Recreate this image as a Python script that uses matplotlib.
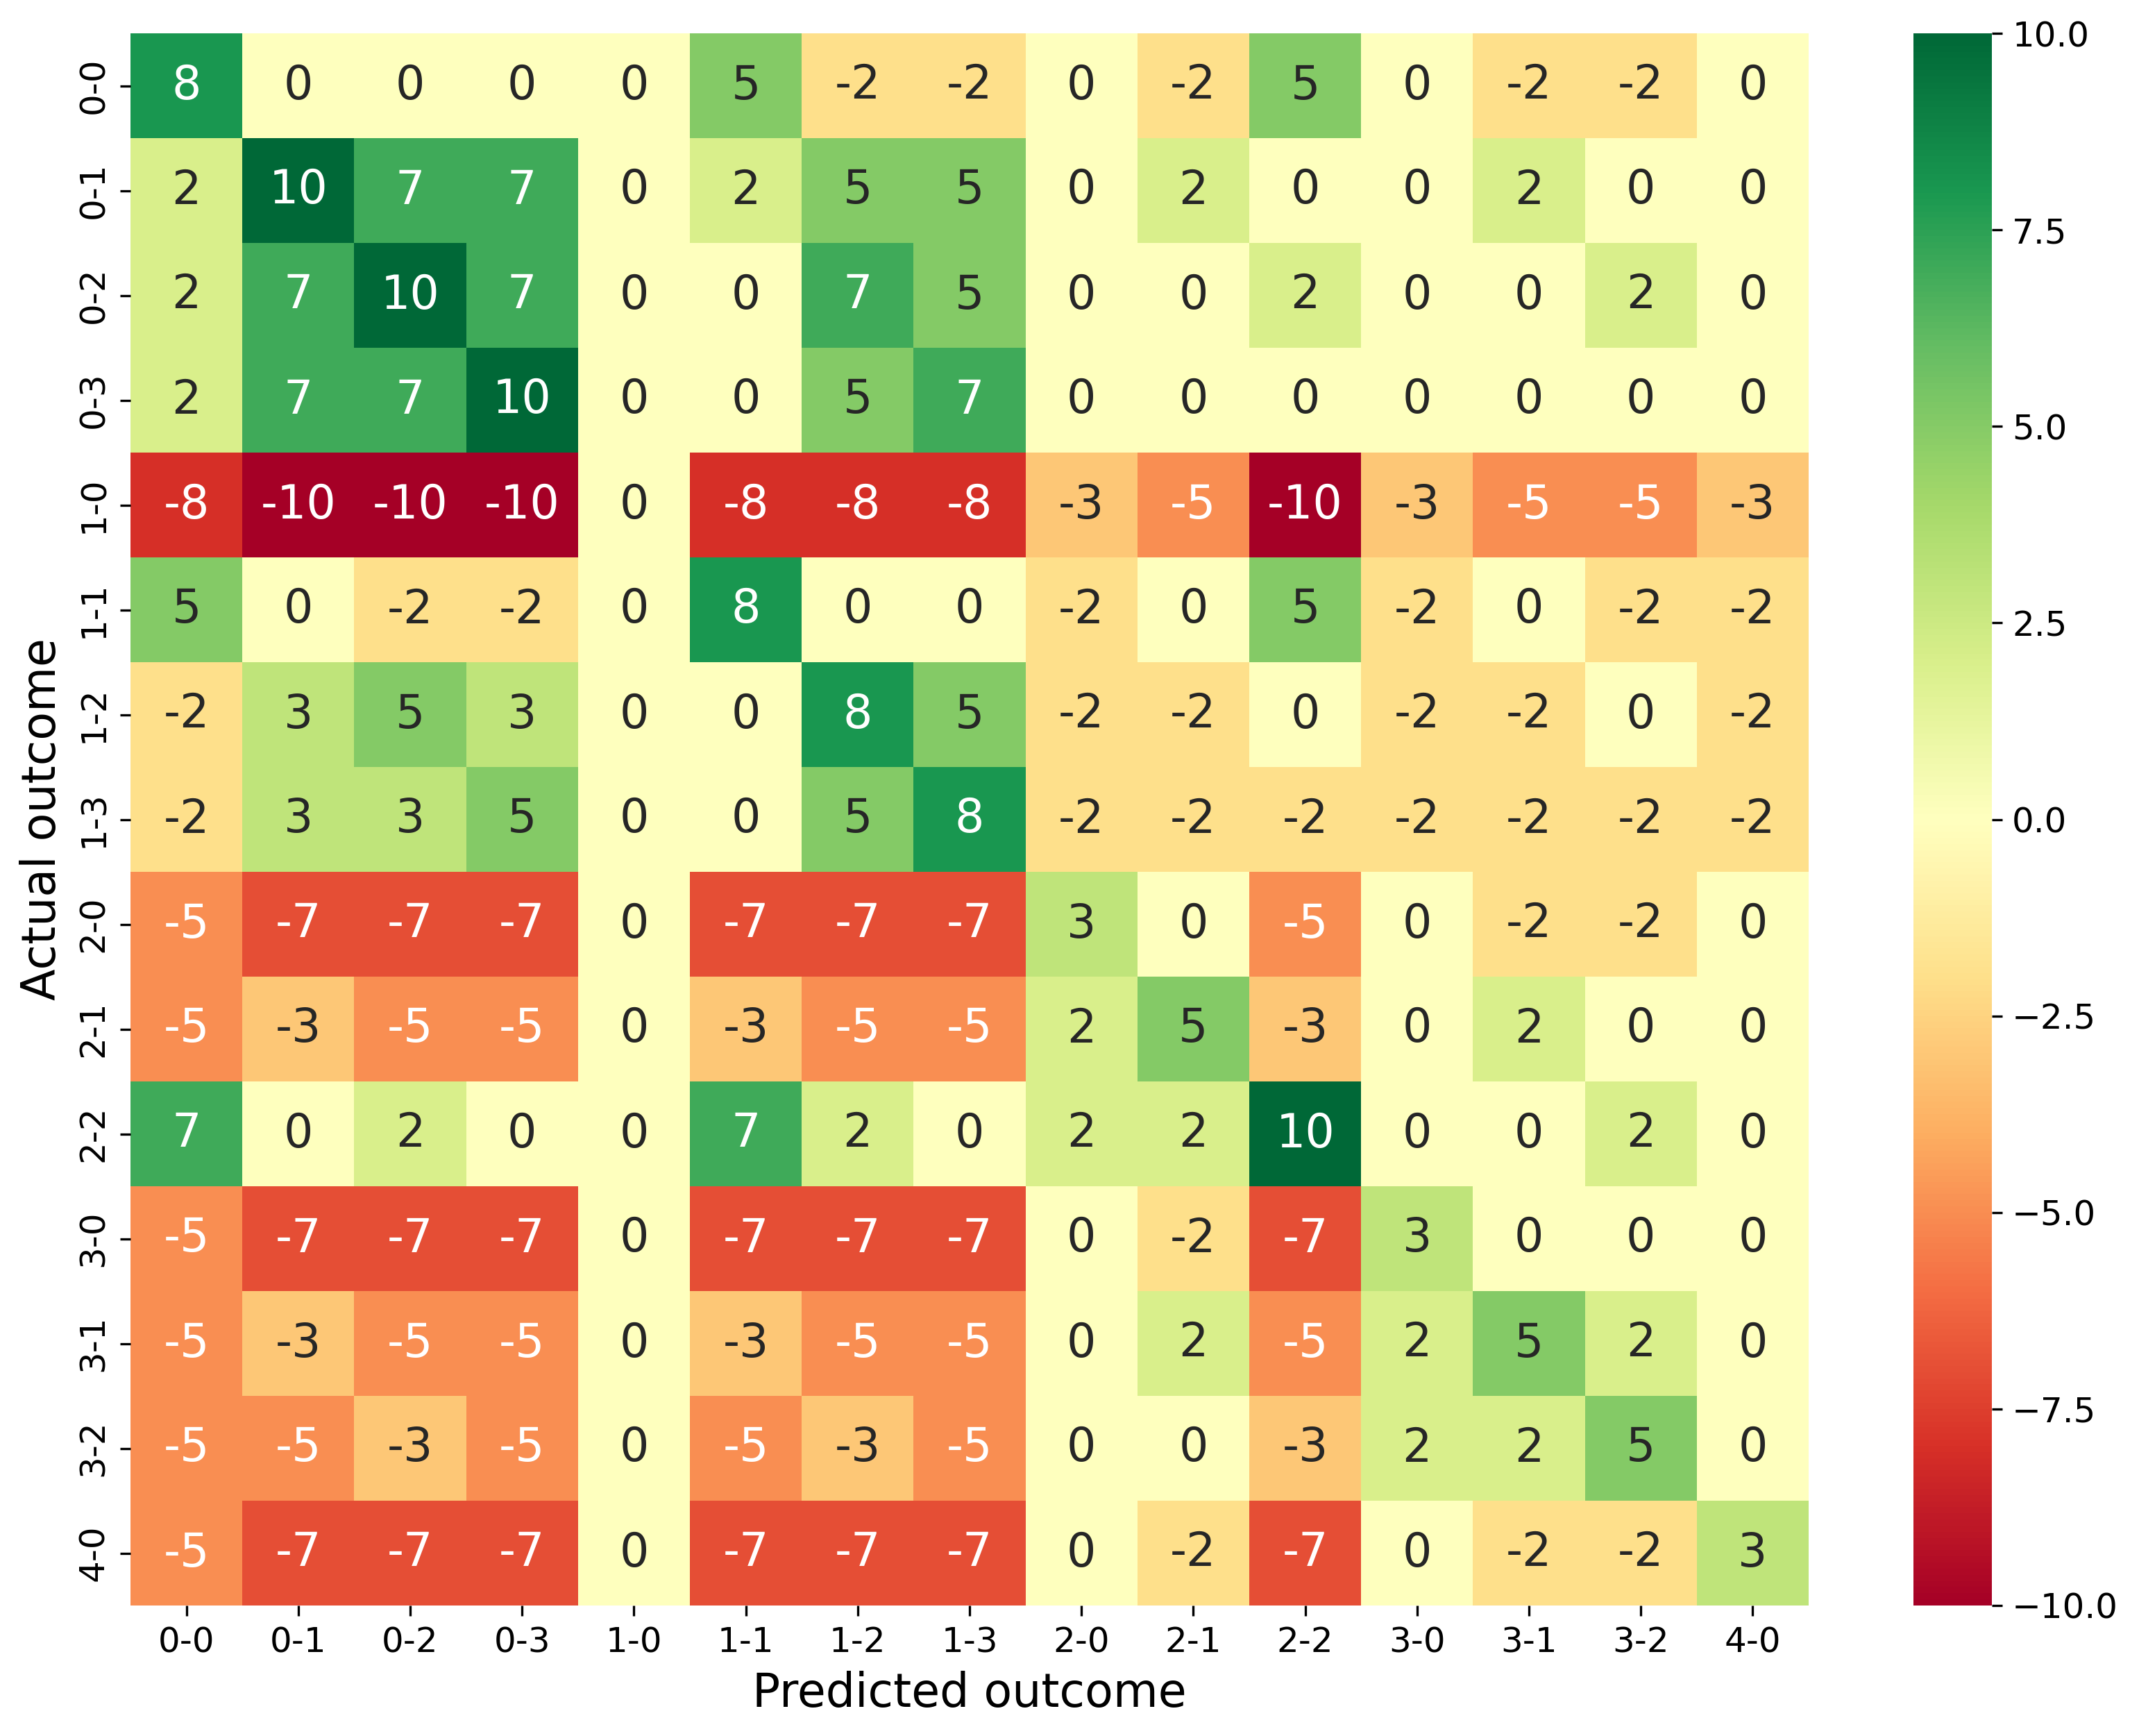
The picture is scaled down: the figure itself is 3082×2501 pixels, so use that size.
import matplotlib
matplotlib.use("Agg")
import matplotlib.pyplot as plt
import numpy as np
import pandas as pd
import seaborn as sns

scores = ["0-0", "0-1", "0-2", "0-3", "1-0", "1-1", "1-2", "1-3",
          "2-0", "2-1", "2-2", "3-0", "3-1", "3-2", "4-0"]

# rows = actual outcome, columns = predicted outcome
points = [
    [8, 0, 0, 0, 0, 5, -2, -2, 0, -2, 5, 0, -2, -2, 0],
    [2, 10, 7, 7, 0, 2, 5, 5, 0, 2, 0, 0, 2, 0, 0],
    [2, 7, 10, 7, 0, 0, 7, 5, 0, 0, 2, 0, 0, 2, 0],
    [2, 7, 7, 10, 0, 0, 5, 7, 0, 0, 0, 0, 0, 0, 0],
    [-8, -10, -10, -10, 0, -8, -8, -8, -3, -5, -10, -3, -5, -5, -3],
    [5, 0, -2, -2, 0, 8, 0, 0, -2, 0, 5, -2, 0, -2, -2],
    [-2, 3, 5, 3, 0, 0, 8, 5, -2, -2, 0, -2, -2, 0, -2],
    [-2, 3, 3, 5, 0, 0, 5, 8, -2, -2, -2, -2, -2, -2, -2],
    [-5, -7, -7, -7, 0, -7, -7, -7, 3, 0, -5, 0, -2, -2, 0],
    [-5, -3, -5, -5, 0, -3, -5, -5, 2, 5, -3, 0, 2, 0, 0],
    [7, 0, 2, 0, 0, 7, 2, 0, 2, 2, 10, 0, 0, 2, 0],
    [-5, -7, -7, -7, 0, -7, -7, -7, 0, -2, -7, 3, 0, 0, 0],
    [-5, -3, -5, -5, 0, -3, -5, -5, 0, 2, -5, 2, 5, 2, 0],
    [-5, -5, -3, -5, 0, -5, -3, -5, 0, 0, -3, 2, 2, 5, 0],
    [-5, -7, -7, -7, 0, -7, -7, -7, 0, -2, -7, 0, -2, -2, 3],
]

df = pd.DataFrame(np.array(points), index=scores, columns=scores)

W, H = 3082, 2501
fig = plt.figure(figsize=(W / 300, H / 300), dpi=300)
ax = fig.add_axes([188 / W, 1 - 2313 / H, (2606 - 188) / W, (2313 - 48) / H])
cax = fig.add_axes([2757 / W, 1 - 2313 / H, (2870 - 2757) / W, (2313 - 48) / H])

sns.heatmap(df, ax=ax, cbar_ax=cax, cmap="RdYlGn", vmin=-10, vmax=10,
            annot=True, fmt="d", annot_kws={"size": 16})

ax.set_xlabel("Predicted outcome", fontsize=16)
ax.set_ylabel("Actual outcome", fontsize=16)
ax.tick_params(axis="both", labelsize=12)
cax.tick_params(labelsize=12)

fig.savefig("out.png", dpi=300)
